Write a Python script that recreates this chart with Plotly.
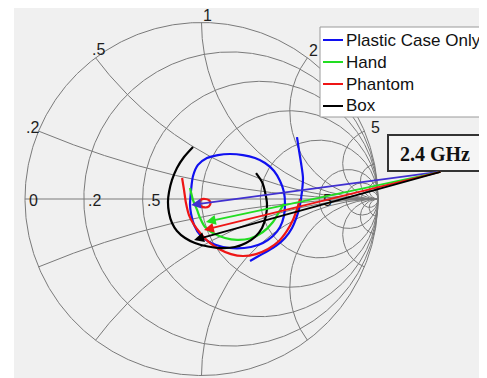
import numpy as np
import plotly.graph_objects as go

# ---------------- data (reflection coefficient) ----------------
series_names = ["Plastic Case Only", "Hand", "Phantom", "Box"]
series_colors = ["#1010f0", "#22dd22", "#ee1515", "#000000"]
arrow_colors = ["#4030d0", "#22dd22", "#ee1515", "#000000"]

plastic_re = [-0.065, -0.059, -0.048, -0.020, 0.031, 0.093, 0.161, 0.235, 0.303, 0.360,
              0.411, 0.445, 0.467, 0.473, 0.467, 0.445, 0.405, 0.348, 0.280, 0.201,
              0.122, 0.054, -0.003, -0.042, -0.059, -0.065, None,
              0.541, 0.552, 0.564, 0.575, 0.569, 0.558, 0.541, 0.513, 0.473, 0.422,
              0.365, 0.314, 0.275]
plastic_im = [-0.034, 0.051, 0.130, 0.193, 0.232, 0.249, 0.255, 0.249, 0.232, 0.204,
              0.159, 0.102, 0.040, -0.028, -0.096, -0.159, -0.210, -0.249, -0.272, -0.280,
              -0.272, -0.249, -0.210, -0.147, -0.085, -0.034, None,
              0.351, 0.278, 0.204, 0.119, 0.040, -0.034, -0.096, -0.164, -0.221, -0.266,
              -0.300, -0.329, -0.351]

hand_re = [-0.065, -0.048, -0.025, -0.008, 0.020, 0.065, 0.133, 0.201, 0.275, 0.348,
           0.405, 0.439, 0.467]
hand_im = [0.062, -0.006, -0.062, -0.108, -0.159, -0.193, -0.221, -0.232, -0.224, -0.187,
           -0.130, -0.074, -0.028]

phantom_re = [-0.110, -0.099, -0.088, -0.071, -0.042, -0.003, 0.042, 0.099, 0.167, 0.235,
              0.309, 0.377, 0.439, 0.484, 0.518, 0.541, 0.558, None,
              -0.011, -0.003, 0.020, 0.042, 0.051, 0.042, 0.020, -0.003, -0.011]
phantom_im = [0.119, 0.051, -0.023, -0.091, -0.147, -0.198, -0.244, -0.283, -0.312, -0.323,
              -0.312, -0.283, -0.238, -0.181, -0.119, -0.057, 0.000, None,
              -0.023, -0.003, 0.000, -0.006, -0.023, -0.042, -0.048, -0.040, -0.023]

box_re = [-0.048, -0.099, -0.139, -0.167, -0.184, -0.190, -0.184, -0.167, -0.139, -0.093,
          -0.037, 0.037, 0.116, 0.190, 0.252, 0.303, 0.343, 0.365, 0.371, 0.360,
          0.343, 0.309]
box_im = [0.295, 0.238, 0.176, 0.108, 0.040, -0.017, -0.079, -0.136, -0.181, -0.221,
          -0.249, -0.269, -0.278, -0.272, -0.249, -0.215, -0.164, -0.096, -0.028, 0.040,
          0.096, 0.147]

# 2.4 GHz points on each curve
freq_label = "2.4 GHz"
mark_re = [-0.059, 0.025, 0.014, -0.042]
mark_im = [-0.034, -0.130, -0.176, -0.232]

# Smith chart grid values and labels
grid_values = [0.2, 0.5, 1, 2, 5, 10, 20]
resist_label_values = [0, 0.2, 0.5, 5]
resist_label_texts = ["0", ".2", ".5", "5"]
react_label_values = [1, 0.5, 0.2, 2, 5]
react_label_texts = ["1", ".5", ".2", "2", "5"]

# ---------------- figure geometry ----------------
VIEW_W, VIEW_H = 487, 378
OFF = 8                      # default page margin of the html body
W, H = VIEW_W - OFF, VIEW_H - OFF
CX, CY, R = 201.5, 199.0, 176.5  # screen-pixel centre / radius of chart


def px_x(px):
    return (px - CX) / R


def px_y(py):
    return (CY - py) / R


def pxp(px):
    return (px - OFF) / W


def pyp(py):
    return 1 - (py - OFF) / H


xr = [px_x(OFF), px_x(VIEW_W)]
yr = [px_y(VIEW_H), px_y(OFF)]

fig = go.Figure()

# grid lines
gx, gy = [], []
t = np.linspace(0, 2 * np.pi, 721)
for r in [0] + grid_values:
    c, rad = r / (1 + r), 1 / (1 + r)
    gx += list(c + rad * np.cos(t)) + [None]
    gy += list(rad * np.sin(t)) + [None]
rr = np.tan(np.linspace(0, np.pi / 2 * 0.9995, 600))
for v in grid_values:
    for s in (1, -1):
        z = rr + 1j * s * v
        g = (z - 1) / (z + 1)
        gx += list(g.real) + [None]
        gy += list(g.imag) + [None]
gx += [-1, 1, None]
gy += [0, 0, None]
fig.add_trace(go.Scatter(x=gx, y=gy, mode="lines", line=dict(color="#7a7a7a", width=1),
                         hoverinfo="skip", showlegend=False))

# data curves
all_re = [plastic_re, hand_re, phantom_re, box_re]
all_im = [plastic_im, hand_im, phantom_im, box_im]
for name, col, xs, ys in zip(series_names, series_colors, all_re, all_im):
    fig.add_trace(go.Scatter(x=xs, y=ys, mode="lines", name=name,
                             line=dict(color=col, width=2.2, shape="spline", smoothing=0.8),
                             connectgaps=False, showlegend=False))

annotations = []
font_lab = dict(family="Arial, Liberation Sans, sans-serif", size=16, color="#1e1e1e")

# resistance labels on the real axis
for v, txt in zip(resist_label_values, resist_label_texts):
    g = (v - 1) / (v + 1)
    annotations.append(dict(x=g, y=0, xref="x", yref="y", text=txt, showarrow=False,
                            xanchor="left", yanchor="middle", xshift=2, yshift=-1,
                            font=font_lab))

# reactance labels around the rim
react_shift = [(5.5, 7.5), (2.4, 8.8), (-5.6, 4), (5.6, 7.8), (10.6, 4)]
for v, txt, (dx, dy) in zip(react_label_values, react_label_texts, react_shift):
    g = (1j * v - 1) / (1j * v + 1)
    annotations.append(dict(x=g.real, y=g.imag, xref="x", yref="y", text=txt,
                            showarrow=False, xanchor="center", yanchor="middle",
                            xshift=dx, yshift=dy, font=font_lab))

# arrows from the frequency box to the 2.4 GHz points
tail = (px_x(442), px_y(171.5))
for col, xm, ym in zip(arrow_colors, mark_re, mark_im):
    annotations.append(dict(x=xm, y=ym, ax=tail[0], ay=tail[1], xref="x", yref="y",
                            axref="x", ayref="y", text="", showarrow=True, arrowhead=2,
                            arrowsize=1.1, arrowwidth=1.8, arrowcolor=col,
                            standoff=0, startstandoff=0))

shapes = [
    dict(type="rect", xref="paper", yref="paper", x0=pxp(14), x1=1.0, y0=0, y1=1.0,
         fillcolor="#f0f0f0", line=dict(width=0), layer="below"),
    dict(type="rect", xref="paper", yref="paper", x0=pxp(388), x1=pxp(482),
         y0=pyp(171), y1=pyp(135), fillcolor="#f5f5f5",
         line=dict(color="#333333", width=2), layer="above"),
    dict(type="rect", xref="paper", yref="paper", x0=pxp(320), x1=pxp(486),
         y0=pyp(117), y1=pyp(27), fillcolor="#ffffff",
         line=dict(color="#9a9a9a", width=1), layer="above"),
]
annotations.append(dict(x=pxp(435), y=pyp(153.5), xref="paper", yref="paper",
                        text="<b>" + freq_label + "</b>", showarrow=False,
                        xanchor="center", yanchor="middle",
                        font=dict(family="Times New Roman, Liberation Serif, serif",
                                  size=20, color="#111111")))

# legend (manual)
for i, (name, col) in enumerate(zip(series_names, series_colors)):
    yy = pyp(40 + 22 * i)
    shapes.append(dict(type="line", xref="paper", yref="paper", x0=pxp(323), x1=pxp(343),
                       y0=yy, y1=yy, line=dict(color=col, width=2), layer="above"))
    annotations.append(dict(x=pxp(344), y=yy, xref="paper", yref="paper", text=name,
                            showarrow=False, xanchor="left", yanchor="middle",
                            font=dict(family="Arial, Liberation Sans, sans-serif",
                                      size=17, color="#111111")))

fig.update_layout(
    width=W, height=H, margin=dict(l=0, r=0, t=0, b=0, pad=0),
    paper_bgcolor="#ffffff", plot_bgcolor="rgba(0,0,0,0)",
    xaxis=dict(range=xr, visible=False, showgrid=False, zeroline=False, fixedrange=True),
    yaxis=dict(range=yr, visible=False, showgrid=False, zeroline=False, fixedrange=True),
    shapes=shapes, annotations=annotations, showlegend=False,
)

fig.write_html("out.html")
